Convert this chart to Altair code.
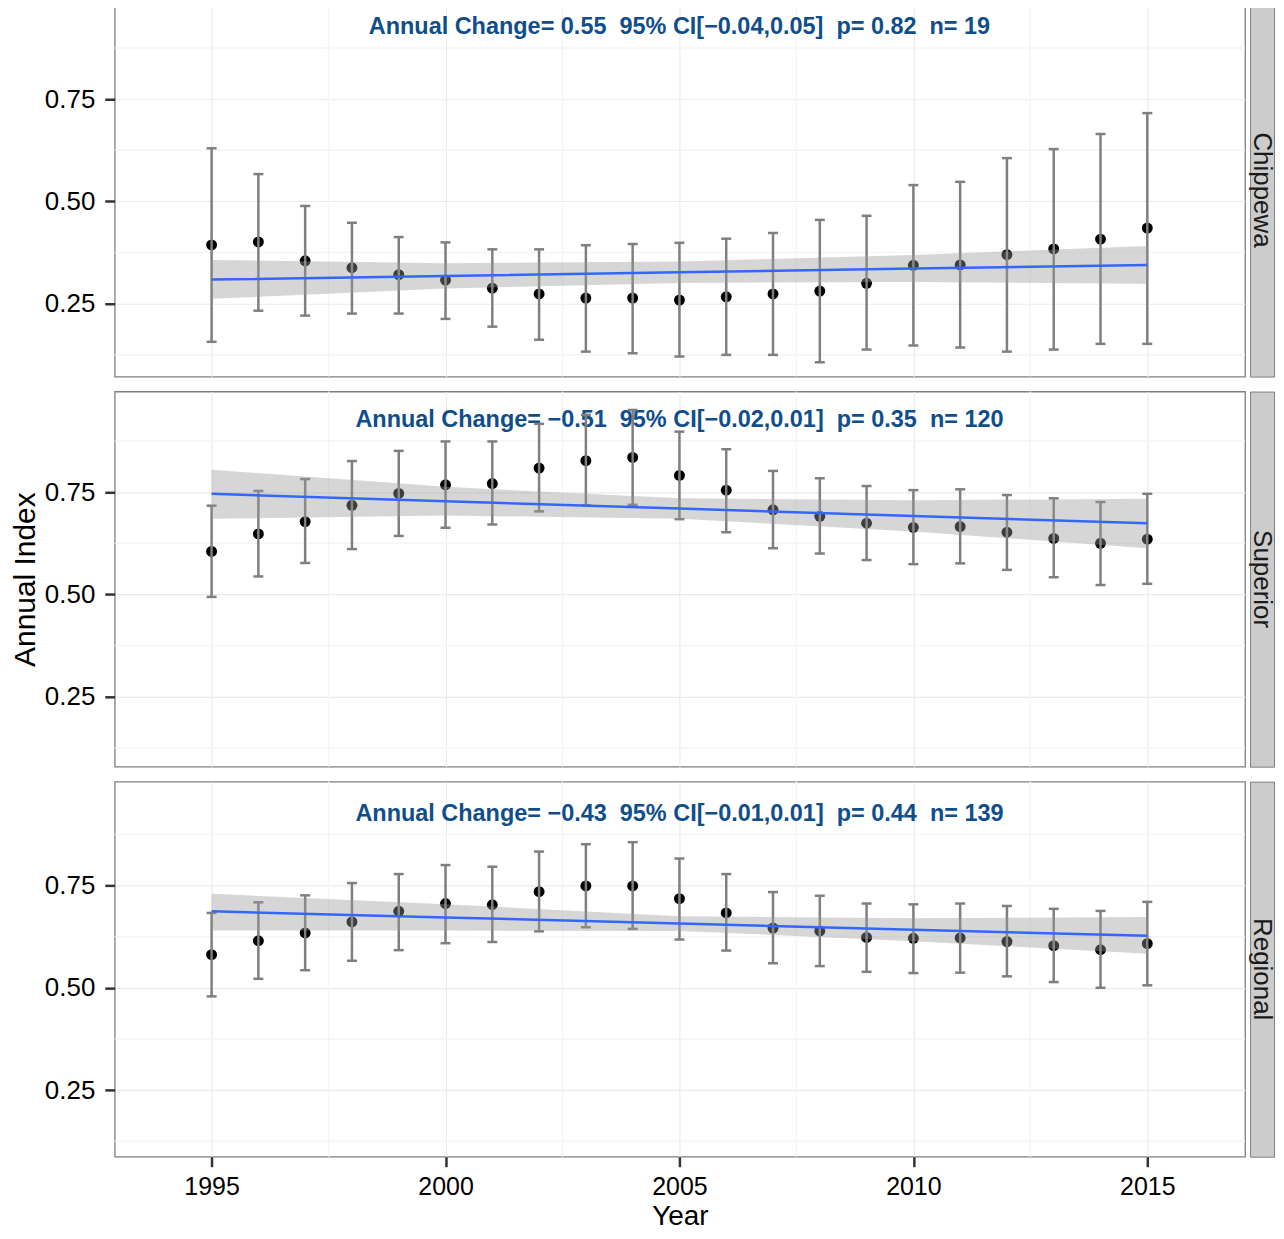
import altair as alt
import pandas as pd

FONT = "Liberation Sans"

years = list(range(1995, 2016))
panels = ["Chippewa", "Superior", "Regional"]

chip_index = [0.394, 0.401, 0.355, 0.338, 0.321, 0.308, 0.288, 0.274, 0.264, 0.264, 0.259,
              0.267, 0.274, 0.281, 0.300, 0.344, 0.345, 0.370, 0.384, 0.408, 0.435]
chip_upper = [0.630, 0.567, 0.489, 0.448, 0.413, 0.400, 0.383, 0.383, 0.393, 0.396, 0.399,
              0.409, 0.423, 0.455, 0.465, 0.540, 0.548, 0.606, 0.628, 0.665, 0.716]
chip_lower = [0.157, 0.233, 0.221, 0.226, 0.226, 0.213, 0.194, 0.162, 0.133, 0.129, 0.121,
              0.125, 0.125, 0.107, 0.138, 0.148, 0.143, 0.133, 0.138, 0.152, 0.152]

sup_index = [0.605, 0.648, 0.678, 0.718, 0.747, 0.768, 0.771, 0.809, 0.827, 0.835, 0.791,
             0.755, 0.707, 0.691, 0.674, 0.664, 0.666, 0.652, 0.637, 0.625, 0.635]
sup_upper = [0.717, 0.753, 0.782, 0.826, 0.851, 0.874, 0.874, 0.917, 0.939, 0.951, 0.898,
             0.855, 0.802, 0.784, 0.765, 0.755, 0.757, 0.743, 0.735, 0.726, 0.746]
sup_lower = [0.494, 0.544, 0.577, 0.611, 0.643, 0.663, 0.671, 0.703, 0.718, 0.719, 0.684,
             0.652, 0.613, 0.600, 0.584, 0.574, 0.576, 0.560, 0.542, 0.523, 0.526]

reg_index = [0.581, 0.615, 0.634, 0.661, 0.687, 0.706, 0.703, 0.735, 0.749, 0.749, 0.718,
             0.683, 0.646, 0.639, 0.623, 0.621, 0.622, 0.613, 0.603, 0.593, 0.608]
reg_upper = [0.683, 0.709, 0.726, 0.756, 0.778, 0.800, 0.796, 0.833, 0.851, 0.856, 0.816,
             0.778, 0.734, 0.725, 0.706, 0.704, 0.706, 0.700, 0.693, 0.688, 0.710]
reg_lower = [0.479, 0.522, 0.543, 0.566, 0.592, 0.609, 0.612, 0.638, 0.648, 0.644, 0.618,
             0.591, 0.560, 0.553, 0.539, 0.536, 0.537, 0.528, 0.514, 0.500, 0.506]

fit_years = [1995, 2000, 2005, 2010, 2015]
chip_fit = [0.309, 0.318, 0.327, 0.336, 0.345]
chip_fit_lo = [0.262, 0.287, 0.301, 0.303, 0.299]
chip_fit_hi = [0.357, 0.349, 0.353, 0.369, 0.391]
sup_fit = [0.746, 0.728, 0.710, 0.692, 0.674]
sup_fit_lo = [0.685, 0.693, 0.685, 0.654, 0.613]
sup_fit_hi = [0.805, 0.763, 0.735, 0.730, 0.734]
reg_fit = [0.687, 0.672, 0.657, 0.642, 0.627]
reg_fit_lo = [0.640, 0.640, 0.639, 0.614, 0.583]
reg_fit_hi = [0.730, 0.704, 0.675, 0.670, 0.673]

NB = "\u00a0"
annotations = [
    "Annual Change= 0.55" + NB * 2 + "95% CI[\u22120.04,0.05]" + NB * 2 + "p= 0.82" + NB * 2 + "n= 19",
    "Annual Change= \u22120.51" + NB * 2 + "95% CI[\u22120.02,0.01]" + NB * 2 + "p= 0.35" + NB * 2 + "n= 120",
    "Annual Change= \u22120.43" + NB * 2 + "95% CI[\u22120.01,0.01]" + NB * 2 + "p= 0.44" + NB * 2 + "n= 139",
]
annot_x = 2005
annot_y = 0.926

major_x = [1995, 2000, 2005, 2010, 2015]
minor_x = [1997.5, 2002.5, 2007.5, 2012.5]
major_y = [0.25, 0.50, 0.75]
minor_y = [0.125, 0.375, 0.625, 0.875]

x_domain = [1992.93, 2017.09]


def panel(name, idx, lo, hi, fit, flo, fhi, text, height, ydom, show_x, ytitle):
    df = pd.DataFrame({"Year": years, "Index": idx, "Lower": lo, "Upper": hi})
    fdf = pd.DataFrame({"Year": fit_years, "Fit": fit, "Lo": flo, "Hi": fhi})
    tdf = pd.DataFrame({"Year": [annot_x], "Index": [annot_y], "label": [text]})
    mxdf = pd.DataFrame({"Year": minor_x})
    mydf = pd.DataFrame({"Index": minor_y})

    xs = alt.Scale(domain=x_domain, nice=False, zero=False)
    ys = alt.Scale(domain=ydom, nice=False, zero=False)
    xaxis = alt.Axis(values=major_x, format="d", grid=True, labels=show_x, ticks=show_x,
                     domain=False, title="Year" if show_x else None)
    yaxis = alt.Axis(values=major_y, format=".2f", grid=True, domain=False, title=ytitle)

    def X(f):
        return alt.X(f"{f}:Q", scale=xs, axis=xaxis)

    def Y(f):
        return alt.Y(f"{f}:Q", scale=ys, axis=yaxis)

    minor_v = alt.Chart(mxdf).mark_rule(color="#F5F5F5", strokeWidth=1.5).encode(x=X("Year"))
    minor_h = alt.Chart(mydf).mark_rule(color="#F5F5F5", strokeWidth=1.5).encode(y=Y("Index"))
    label = alt.Chart(tdf).mark_text(font=FONT, fontSize=23.5, fontWeight="bold",
                                     color="#104E8B").encode(x=X("Year"), y=Y("Index"), text="label:N")
    pts = alt.Chart(df).mark_circle(size=120, color="black", opacity=1).encode(x=X("Year"), y=Y("Index"))
    bars = alt.Chart(df).mark_rule(color="#7F7F7F", strokeWidth=2.5).encode(
        x=X("Year"), y=Y("Lower"), y2=alt.Y2("Upper:Q"))
    cap_lo = alt.Chart(df).mark_tick(color="#7F7F7F", orient="horizontal", size=10,
                                     thickness=2.5, opacity=1).encode(x=X("Year"), y=Y("Lower"))
    cap_hi = alt.Chart(df).mark_tick(color="#7F7F7F", orient="horizontal", size=10,
                                     thickness=2.5, opacity=1).encode(x=X("Year"), y=Y("Upper"))
    band = alt.Chart(fdf).mark_area(color="#999999", opacity=0.4).encode(
        x=X("Year"), y=Y("Lo"), y2=alt.Y2("Hi:Q"))
    line = alt.Chart(fdf).mark_line(color="#3366FF", strokeWidth=2.5).encode(x=X("Year"), y=Y("Fit"))

    main = alt.layer(minor_v, minor_h, label, pts, bars, cap_lo, cap_hi, band, line).properties(
        width=1133, height=height)

    strip = alt.Chart(pd.DataFrame({"panel": [name]})).mark_text(
        angle=90, fontSize=26, font=FONT, color="#1A1A1A").encode(text="panel:N").properties(
        width=24, height=height,
        view=alt.ViewBackground(fill="#CCCCCC", stroke="#7F7F7F", strokeWidth=1))

    return alt.hconcat(main, strip, spacing=1)


row1 = panel(panels[0], chip_index, chip_lower, chip_upper, chip_fit, chip_fit_lo, chip_fit_hi,
             annotations[0], 374, [0.072, 0.984], False, " ")
row2 = panel(panels[1], sup_index, sup_lower, sup_upper, sup_fit, sup_fit_lo, sup_fit_hi,
             annotations[1], 376, [0.079, 0.996], False, "Annual Index")
row3 = panel(panels[2], reg_index, reg_lower, reg_upper, reg_fit, reg_fit_lo, reg_fit_hi,
             annotations[2], 376, [0.087, 1.004], True, " ")

chart = alt.vconcat(row1, row2, row3, spacing=11).properties(
    padding={"left": 1, "top": -8, "right": 0, "bottom": 0},
    background="white",
).configure_view(
    stroke="#7F7F7F", strokeWidth=1.3, fill="white"
).configure_axis(
    labelFont=FONT, titleFont=FONT, labelFontSize=26, titleFontSize=30,
    labelColor="black", titleColor="black", titleFontWeight="normal",
    tickSize=10, tickWidth=2.5, tickColor="#333333", labelPadding=10,
    gridColor="#EBEBEB", gridWidth=1.2,
).configure_axisY(
    titlePadding=4,
).configure_axisX(
    titlePadding=3, labelPadding=8, labelFontSize=25, titleFontSize=28,
)

chart.save("out.html", embed_options={"renderer": "svg", "actions": False})
